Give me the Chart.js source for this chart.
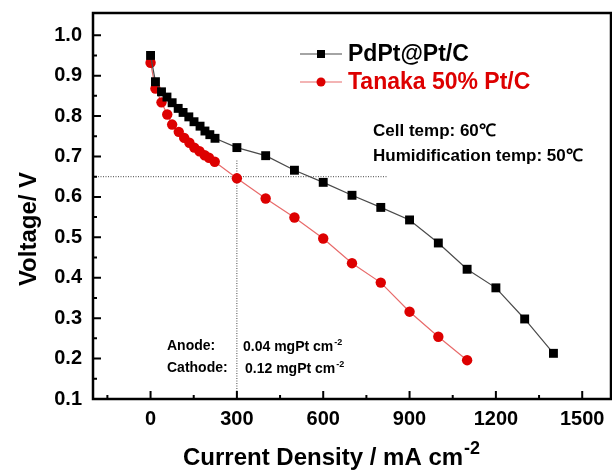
<!DOCTYPE html>
<html>
<head>
<meta charset="utf-8">
<script src="https://cdn.jsdelivr.net/npm/chart.js@4"></script>
<style>
  html, body { margin: 0; padding: 0; background: #fff; }
  canvas { display: block; }
</style>
</head>
<body>
<canvas id="polCurve" width="612" height="470"></canvas>
<script>
// polarization curves: PdPt@Pt/C vs Tanaka 50% Pt/C
const FONT = '"Liberation Sans", Arial, sans-serif';

const currentPdPt = [0, 17, 38, 57, 75, 96, 113, 133, 151, 172, 189, 206, 224,
  300, 400, 500, 600, 700, 800, 900, 1000, 1100, 1200, 1300, 1400];
const voltagePdPt = [0.950, 0.885, 0.860, 0.847, 0.833, 0.819, 0.809, 0.798, 0.786, 0.775, 0.763, 0.754, 0.745,
  0.722, 0.702, 0.666, 0.636, 0.604, 0.574, 0.543, 0.486, 0.421, 0.375, 0.298, 0.213];

const currentTanaka = [0, 17, 38, 58, 75, 98, 117, 135, 152, 170, 188, 203, 223,
  300, 400, 500, 600, 700, 800, 900, 1000, 1100];
const voltageTanaka = [0.932, 0.868, 0.834, 0.804, 0.779, 0.761, 0.746, 0.734, 0.722, 0.713, 0.703, 0.697, 0.687,
  0.646, 0.596, 0.549, 0.497, 0.436, 0.388, 0.316, 0.254, 0.196];

// 0.65 V guide lines
const guideH = [[-200, 0.65], [820, 0.65]];
const guideV = [[300, 0.69], [300, 0.1]];

const xTicks = [0, 300, 600, 900, 1200, 1500];
const xMinor = [-150, 150, 450, 750, 1050, 1350];
const yTicks = [0.1, 0.2, 0.3, 0.4, 0.5, 0.6, 0.7, 0.8, 0.9, 1.0];
const yMinor = [0.15, 0.25, 0.35, 0.45, 0.55, 0.65, 0.75, 0.85, 0.95];

const seriesNames = ['PdPt@Pt/C', 'Tanaka 50% Pt/C'];
const BLACK = '#000000', BLACK_LINE = '#4a4a4a';
const RED = '#dd0000', RED_LINE = '#e86a6a';

const toPts = (xs, ys) => xs.map((x, i) => ({ x: x, y: ys[i] }));
const pairPts = arr => arr.map(p => ({ x: p[0], y: p[1] }));

function drawSup(ctx, base, sup, x, y, size, supSize, color) {
  ctx.fillStyle = color;
  ctx.font = 'bold ' + size + 'px ' + FONT;
  ctx.textBaseline = 'alphabetic';
  ctx.textAlign = 'left';
  ctx.fillText(base, x, y);
  const w = ctx.measureText(base).width;
  ctx.font = 'bold ' + supSize + 'px ' + FONT;
  ctx.fillText(sup, x + w + 1, y - size * 0.45);
}

const decorations = {
  id: 'decorations',
  afterDraw(chart) {
    const ctx = chart.ctx;
    const a = chart.chartArea;
    const sx = chart.scales.x, sy = chart.scales.y;
    ctx.save();

    // frame
    ctx.strokeStyle = '#000';
    ctx.lineWidth = 2.5;
    ctx.strokeRect(a.left, a.top, a.right - a.left, a.bottom - a.top);

    // inward ticks on bottom and left axes
    ctx.lineWidth = 2;
    ctx.beginPath();
    xTicks.forEach(v => { const p = sx.getPixelForValue(v); ctx.moveTo(p, a.bottom); ctx.lineTo(p, a.bottom - 8); });
    xMinor.forEach(v => { const p = sx.getPixelForValue(v); ctx.moveTo(p, a.bottom); ctx.lineTo(p, a.bottom - 4); });
    yTicks.forEach(v => { const p = sy.getPixelForValue(v); ctx.moveTo(a.left, p); ctx.lineTo(a.left + 8, p); });
    yMinor.forEach(v => { const p = sy.getPixelForValue(v); ctx.moveTo(a.left, p); ctx.lineTo(a.left + 4, p); });
    ctx.stroke();

    // legend
    const legendX = 300, legendW = 42;
    [[54, BLACK_LINE, BLACK, 'rect'], [82, RED_LINE, RED, 'circle']].forEach((row, i) => {
      const [y, lineColor, color, shape] = row;
      ctx.strokeStyle = lineColor;
      ctx.lineWidth = 1.2;
      ctx.beginPath();
      ctx.moveTo(legendX, y);
      ctx.lineTo(legendX + legendW, y);
      ctx.stroke();
      ctx.fillStyle = color;
      const cx = legendX + legendW / 2;
      if (shape === 'rect') {
        ctx.fillRect(cx - 4, y - 4, 8, 8);
      } else {
        ctx.beginPath();
        ctx.arc(cx, y, 4.5, 0, Math.PI * 2);
        ctx.fill();
      }
      ctx.font = 'bold 23px ' + FONT;
      ctx.textBaseline = 'middle';
      ctx.textAlign = 'left';
      ctx.fillText(seriesNames[i], 348, y + 1);
    });

    // test conditions
    ctx.fillStyle = '#000';
    ctx.font = 'bold 17px ' + FONT;
    ctx.textBaseline = 'middle';
    ctx.fillText('Cell temp: 60\u2103', 373, 131);
    ctx.fillText('Humidification temp: 50\u2103', 373, 156);

    // catalyst loading
    ctx.font = 'bold 14px ' + FONT;
    ctx.fillText('Anode:', 167, 346);
    ctx.fillText('Cathode:', 167, 368);
    drawSup(ctx, '0.04 mgPt cm', '-2', 243, 351, 14, 9, '#000');
    drawSup(ctx, '0.12 mgPt cm', '-2', 245, 373, 14, 9, '#000');

    // axis titles
    ctx.save();
    ctx.translate(29, 229);
    ctx.rotate(-Math.PI / 2);
    ctx.font = 'bold 24px ' + FONT;
    ctx.textAlign = 'center';
    ctx.textBaseline = 'middle';
    ctx.fillStyle = '#000';
    ctx.fillText('Voltage/ V', 0, 0);
    ctx.restore();

    drawSup(ctx, 'Current Density / mA cm', '-2', 183, 465, 24, 18, '#000');

    ctx.restore();
  }
};

new Chart(document.getElementById('polCurve'), {
  type: 'scatter',
  data: {
    datasets: [
      {
        label: seriesNames[0],
        data: toPts(currentPdPt, voltagePdPt),
        showLine: true,
        borderColor: BLACK_LINE,
        borderWidth: 1.2,
        pointStyle: 'rect',
        pointRadius: 6.3,
        pointBackgroundColor: BLACK,
        pointBorderColor: BLACK,
        pointBorderWidth: 0
      },
      {
        label: seriesNames[1],
        data: toPts(currentTanaka, voltageTanaka),
        showLine: true,
        borderColor: RED_LINE,
        borderWidth: 1.2,
        pointStyle: 'circle',
        pointRadius: 5.2,
        pointBackgroundColor: RED,
        pointBorderColor: RED,
        pointBorderWidth: 0
      },
      {
        data: pairPts(guideH),
        showLine: true,
        borderColor: '#444',
        borderWidth: 1,
        borderDash: [1, 1.5],
        pointRadius: 0
      },
      {
        data: pairPts(guideV),
        showLine: true,
        borderColor: '#444',
        borderWidth: 1,
        borderDash: [1, 1.5],
        pointRadius: 0
      }
    ]
  },
  options: {
    responsive: false,
    animation: false,
    devicePixelRatio: 1,
    layout: { autoPadding: false, padding: { top: 13, right: 1, left: 0, bottom: 0 } },
    plugins: {
      legend: { display: false },
      tooltip: { enabled: false }
    },
    scales: {
      x: {
        type: 'linear',
        min: -200,
        max: 1600,
        afterBuildTicks: s => { s.ticks = xTicks.map(v => ({ value: v })); },
        afterFit: s => { s.height = 71; s.paddingLeft = 0; s.paddingRight = 0; },
        grid: { display: false, drawTicks: false },
        border: { display: false },
        ticks: {
          color: '#000',
          padding: 8,
          maxRotation: 0,
          font: { family: FONT, size: 20, weight: 'bold' },
          callback: v => String(v)
        }
      },
      y: {
        type: 'linear',
        min: 0.1,
        max: 1.055,
        afterBuildTicks: s => { s.ticks = yTicks.map(v => ({ value: v })); },
        afterFit: s => { s.width = 93; s.paddingTop = 0; s.paddingBottom = 0; },
        grid: { display: false, drawTicks: false },
        border: { display: false },
        ticks: {
          color: '#000',
          padding: 11,
          font: { family: FONT, size: 20, weight: 'bold' },
          callback: v => v.toFixed(1)
        }
      }
    }
  },
  plugins: [decorations]
});
</script>
</body>
</html>
